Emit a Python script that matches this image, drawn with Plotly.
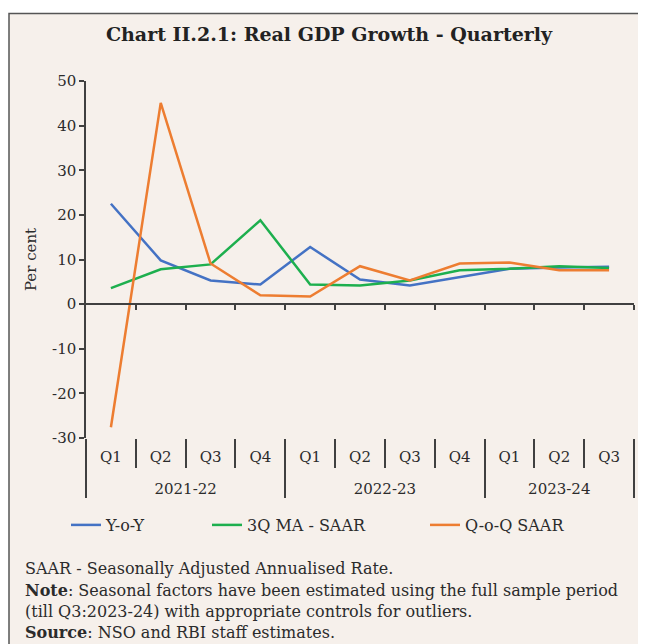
import plotly.graph_objects as go

# Data
years = ["2021-22"] * 4 + ["2022-23"] * 4 + ["2023-24"] * 3
quarters = ["Q1", "Q2", "Q3", "Q4", "Q1", "Q2", "Q3", "Q4", "Q1", "Q2", "Q3"]
yoy = [22.5, 9.8, 5.3, 4.4, 12.8, 5.5, 4.2, 6.1, 7.9, 8.2, 8.4]
ma_saar = [3.6, 7.8, 8.9, 18.8, 4.4, 4.2, 5.3, 7.6, 7.9, 8.5, 8.1]
qoq_saar = [-27.6, 45.1, 9.1, 2.0, 1.7, 8.5, 5.3, 9.1, 9.3, 7.6, 7.6]
y_ticks = [-30, -20, -10, 0, 10, 20, 30, 40, 50]
y_ticktext = ["-30", "-20", "-10", "0", "10", "20", "30", "40", "50"]

# the page body adds an 8px margin, so work in page pixels and shift
OFF = 8
W, H = 646 - OFF, 644 - OFF
L, R, T, B = 86 - OFF, 12, 81 - OFF, 206
pw, ph = W - L - R, H - T - B

def px(x):  # page pixel -> paper x
    return (x - OFF - L) / pw

def py(y):  # page pixel -> paper y
    return (H - B - (y - OFF)) / ph

FONT = "DejaVu Serif"
BG = "#F6F0EB"
AX = "#404040"
TXT = "#2b2b2b"

# year row pushed one line lower, like the reference
year_row = ["<br>" + y for y in years]

fig = go.Figure()
series = [("Y-o-Y", yoy, "#4472C4", "legend", 66),
          ("3Q MA - SAAR", ma_saar, "#1DAF4E", "legend2", 207),
          ("Q-o-Q SAAR", qoq_saar, "#ED7D31", "legend3", 425)]
for name, vals, col, leg, _ in series:
    fig.add_trace(go.Scatter(x=[year_row, quarters], y=vals, name=name, mode="lines",
                             line=dict(color=col, width=2.5), legend=leg))

# invisible trace so the zero-line axis gets drawn
fig.add_trace(go.Scatter(x=list(range(len(quarters))), y=[None] * len(quarters),
                         xaxis="x2", showlegend=False, hoverinfo="skip"))

# page box
fig.add_shape(type="rect", xref="paper", yref="paper",
              x0=px(9), x1=px(670), y0=py(670), y1=py(13.5),
              fillcolor=BG, line=dict(color="#555555", width=1.5), layer="below")

notes = [
    (568, "SAAR - Seasonally Adjusted Annualised Rate."),
    (590, "<b>Note</b>: Seasonal factors have been estimated using the full sample period"),
    (611, "(till Q3:2023-24) with appropriate controls for outliers."),
    (632, "<b>Source</b>: NSO and RBI staff estimates."),
]
for y, txt in notes:
    fig.add_annotation(x=px(23), y=py(y), xref="paper", yref="paper", text=txt,
                       showarrow=False, xanchor="left", yanchor="middle",
                       font=dict(family=FONT, size=16, color=TXT))

legends = {}
for name, vals, col, leg, lx in series:
    legends[leg] = dict(orientation="h", x=px(lx), xanchor="left", y=py(525),
                        yanchor="middle", bgcolor="rgba(0,0,0,0)",
                        font=dict(family=FONT, size=16, color=TXT))

fig.update_layout(
    width=W, height=H,
    margin=dict(l=L, r=R, t=T, b=B),
    paper_bgcolor="white", plot_bgcolor=BG,
    title=dict(text="<b>Chart II.2.1: Real GDP Growth - Quarterly</b>",
               x=(329 - OFF) / W, xanchor="center", y=1 - (34 - OFF) / H,
               yanchor="middle",
               font=dict(family=FONT, size=19, color="#222222")),
    font=dict(family=FONT, size=15, color=TXT),
    xaxis=dict(type="multicategory", range=[-0.5, len(quarters) - 0.5],
               showgrid=False, zeroline=False,
               showline=False, ticks="outside", tickson="boundaries",
               ticklen=29, tickcolor=AX, tickwidth=1.5,
               showdividers=True, dividercolor=AX, dividerwidth=1.5,
               ticklabelstandoff=8,
               tickfont=dict(family=FONT, size=15, color=TXT)),
    xaxis2=dict(overlaying="x", anchor="free", position=30 / 80,
                range=[-0.5, len(quarters) - 0.5],
                tickvals=[i + 0.5 for i in range(len(quarters))],
                showticklabels=False, ticks="outside", ticklen=5,
                tickcolor=AX, tickwidth=1.5, showline=True, linecolor=AX,
                linewidth=1.5, showgrid=False, zeroline=False),
    yaxis=dict(range=[-30, 50], tickvals=y_ticks, ticktext=y_ticktext,
               showgrid=False, zeroline=False,
               showline=True, linecolor=AX, linewidth=1.5,
               ticks="outside", ticklen=5, tickcolor=AX, tickwidth=1.5,
               title=dict(text="Per cent", standoff=12,
                          font=dict(family=FONT, size=15, color=TXT)),
               tickfont=dict(family=FONT, size=15, color=TXT)),
    showlegend=True,
    **legends,
)

fig.write_html("out.html")
